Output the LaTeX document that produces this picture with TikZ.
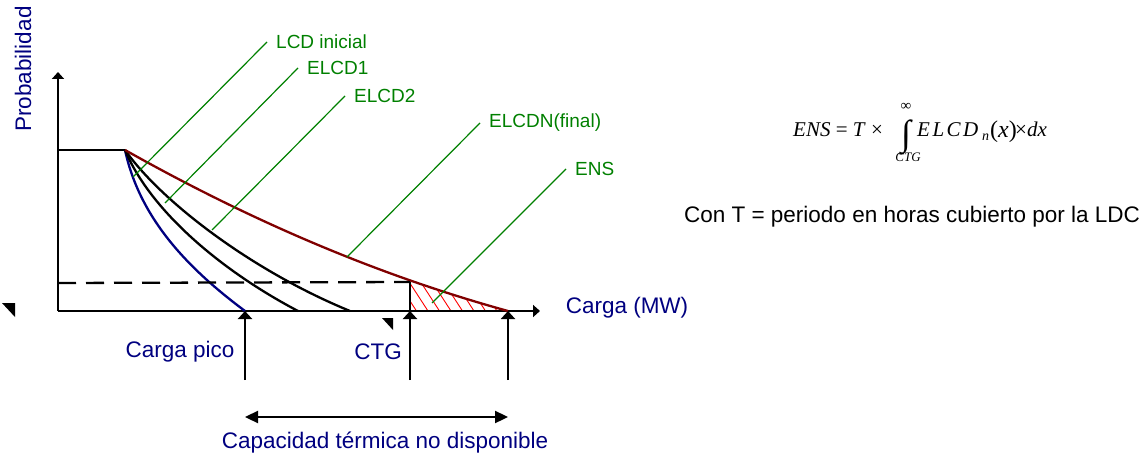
\documentclass[tikz,border=0pt]{standalone}
\usepackage{fontspec}
\setmainfont{Liberation Sans}
\newfontfamily\formfont{Liberation Serif}
\usetikzlibrary{arrows.meta}
\definecolor{navyb}{RGB}{0,0,128}
\definecolor{greenl}{RGB}{0,128,0}
\definecolor{maroonc}{RGB}{128,0,0}
\begin{document}
\begin{tikzpicture}[x=1pt,y=-1pt,
  axisline/.style={line width=2.4pt,-{Triangle[length=7pt,width=12pt]}},
  curveline/.style={line width=2.3pt},
  leader/.style={greenl,line width=1.2pt},
  lbl/.style={text=greenl,font=\fontsize{19}{22}\selectfont,anchor=west,inner xsep=9pt,inner ysep=0pt},
  bluetxt/.style={text=navyb,font=\fontsize{22.5}{26}\selectfont,inner sep=0pt},
  uparrow/.style={line width=2.3pt,-{Triangle[length=8pt,width=14pt]}},
  dblarrow/.style={line width=2.3pt,{Triangle[length=13pt,width=12pt]}-{Triangle[length=13pt,width=12pt]}},
  hatchline/.style={red,line width=0.9pt},
  fpart/.style={inner sep=0pt,font=\formfont\fontsize{21}{24}\selectfont}]
\useasboundingbox (0,0) rectangle (1148,457);
% key coordinates
\coordinate (O) at (58,311);
\coordinate (ytip) at (58,72);
\coordinate (xtip) at (540,311);
\coordinate (pl) at (58,150);
\coordinate (peak) at (125,150);
\coordinate (e1) at (245,311);
\coordinate (e2) at (298,311);
\coordinate (e3) at (350,311);
\coordinate (e4) at (508,311);
\coordinate (dl) at (58,283);
\coordinate (ctgtop) at (410,282);
\coordinate (ctg) at (410,311);
% hatch
\begin{scope}
  \clip (410,200) rectangle (520,311);
  \clip (peak) .. controls (252.3,221.7) and (379.7,275.7) .. (e4) -- (125,311) -- cycle;
  \foreach \xx in {405,416.5,...,530} {
    \draw[hatchline] (\xx,311) -- ++(-40,-61.6);
  }
\end{scope}
% axes
\draw[axisline] (O) -- (ytip);
\draw[axisline] (O) -- (xtip);
\draw[curveline] (pl) -- (peak);
% curves
\draw[curveline,navyb] (peak) .. controls (140,220) and (190,270) .. (e1);
\draw[curveline] (peak) .. controls (150,210) and (220,270) .. (e2);
\draw[curveline] (peak) .. controls (160,200) and (250,270) .. (e3);
\draw[curveline,maroonc] (peak) .. controls (252.3,221.7) and (379.7,275.7) .. (e4);
% dashed
\draw[line width=2.3pt,dash pattern=on 18pt off 10pt] (dl) -- (ctgtop);
\draw[line width=2.3pt] (ctgtop) -- (ctg);
% up arrows
\coordinate (b1) at (245,380);
\coordinate (b2) at (410,380);
\coordinate (b3) at (508,380);
\draw[uparrow] (b1) -- (e1);
\draw[uparrow] (b2) -- (ctg);
\draw[uparrow] (b3) -- (e4);
\coordinate (da) at (245,417);
\coordinate (db) at (508,417);
\draw[dblarrow] (da) -- (db);
% small triangles
\fill (2,303) -- (15,303) -- (15,317) -- cycle;
\fill (382,318) -- (393,318) -- (393,330) -- cycle;
% leader points
\coordinate (p1) at (133,177);
\coordinate (p2) at (165,203);
\coordinate (p3) at (212,230);
\coordinate (p4) at (347,257);
\coordinate (p5) at (432,303);
\node[lbl] (lcd) at (267,42) {LCD inicial};
\node[lbl] (elcd1) at (298,68) {ELCD1};
\node[lbl] (elcd2) at (345,96) {ELCD2};
\node[lbl] (elcdn) at (480,123) {ELCDN(final)};
\node[lbl] (ens) at (566,169) {ENS};
\draw[leader] (lcd.west) -- (p1);
\draw[leader] (elcd1.west) -- (p2);
\draw[leader] (elcd2.west) -- (p3);
\draw[leader] (elcdn.west) -- (p4);
\draw[leader] (ens.west) -- (p5);
% texts
\node[bluetxt,rotate=90] (prob) at (23,69) {Probabilidad};
\node[bluetxt] (carga) at (627,308) {Carga (MW)};
\node[bluetxt] (pico) at (180,352) {Carga pico};
\node[bluetxt] (ctgl) at (378,352) {CTG};
\node[bluetxt] (cap) at (385,443) {Capacidad térmica no disponible};
\node[inner sep=0pt,font=\fontsize{22.5}{26}\selectfont] (cont) at (912,217) {Con T = periodo en horas cubierto por la LDC};
% formula
\node[fpart,anchor=base west] (f1) at (793,137) {\textit{ENS} = \textit{T} ×};
\node[inner sep=0pt,font=\formfont\fontsize{36}{40}\selectfont,anchor=base] (fint) at (906,146) {∫};
\node[inner sep=0pt,font=\formfont\fontsize{15}{17}\selectfont] (finf) at (906,107) {∞};
\node[inner sep=0pt,font=\formfont\itshape\fontsize{13}{15}\selectfont] (fctg) at (908,157) {CTG};
\node[fpart,anchor=base west] (f2) at (917,137) {\textit{E\kern2.5pt L\kern2.5pt C\kern2.5pt D}};
\node[inner sep=0pt,font=\formfont\itshape\fontsize{14}{16}\selectfont,anchor=base west] (fn) at (982,141) {n};
\node[inner sep=0pt,font=\formfont\fontsize{24}{27}\selectfont,anchor=base west] (f3) at (990,138) {(\textit{x})};
\node[fpart,anchor=base west] (f4) at (1015,137) {×\textit{dx}};
\end{tikzpicture}
\end{document}
